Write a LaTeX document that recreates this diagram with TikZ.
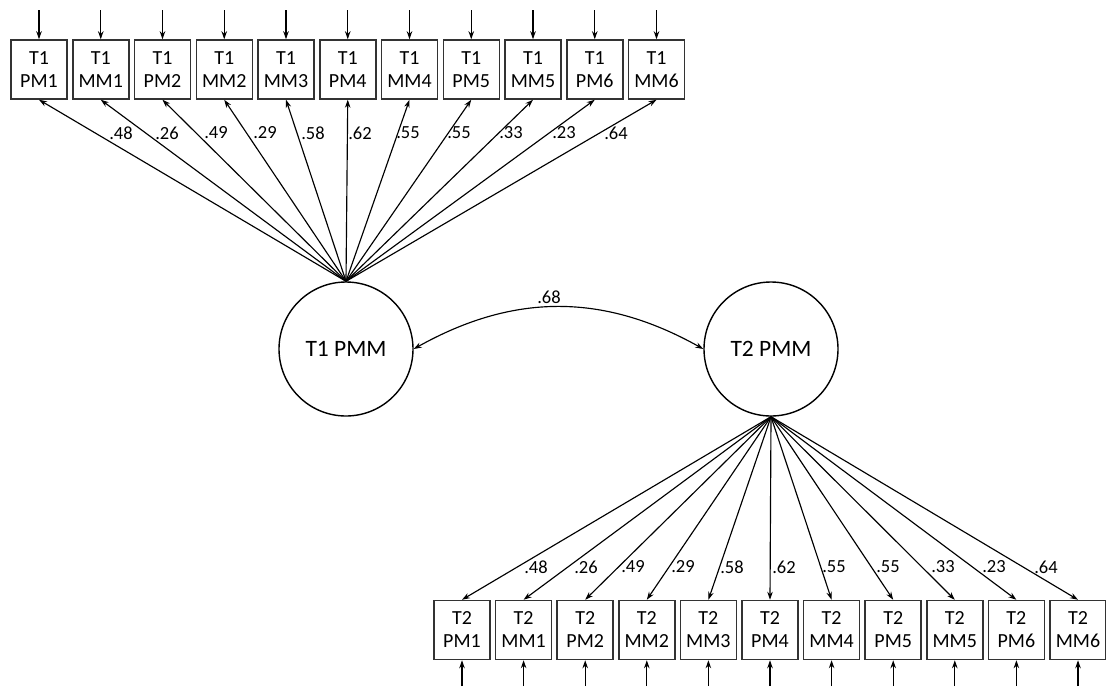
\documentclass[tikz,border=0pt]{standalone}
\usepackage{fontspec}
\setmainfont{Carlito}
\usetikzlibrary{arrows.meta}
\begin{document}
\begin{tikzpicture}[x=1pt,y=-1pt,
  obs/.style={draw=black!80, line width=1.5pt, minimum width=56pt, minimum height=59pt, inner sep=0pt, align=center, font=\fontsize{20}{23}\selectfont},
  lat/.style={draw, circle, line width=1.4pt, minimum size=134pt, inner sep=0pt, font=\fontsize{23.5}{27}\selectfont},
  arr/.style={line width=1.15pt, -{Stealth[length=8pt,width=5.5pt]}},
  darr/.style={line width=1.15pt, {Stealth[length=8pt,width=5.5pt]}-{Stealth[length=8pt,width=5.5pt]}},
  lbl/.style={font=\fontsize{18.5}{21}\selectfont, inner sep=0pt}]
\useasboundingbox (0,0) rectangle (1106,686);
\node[lat] (t1) at (346,349) {T1 PMM};
\node[lat] (t2) at (771,349) {T2 PMM};
\foreach \n [count=\i from 0] in {PM1,MM1,PM2,MM2,MM3,PM4,MM4,PM5,MM5,PM6,MM6}{
  \node[obs] (a\i) at ({39+61.75*\i},69.5) {T1\\\n};
  \coordinate (ea\i) at ({39+61.75*\i},10);
  \draw[arr] (ea\i) -- (a\i.north);
  \draw[arr] (t1.north) -- (a\i.south);
  \node[obs] (b\i) at ({462+61.6*\i},630) {T2\\\n};
  \coordinate (eb\i) at ({462+61.6*\i},686);
  \draw[arr] (eb\i) -- (b\i.south);
  \draw[arr] (t2.south) -- (b\i.north);
}
\foreach \v/\x [count=\i] in {.48/121,.26/167,.49/216,.29/265,.58/313,.62/360,.55/408,.55/459,.33/511,.23/564,.64/616}{
  \node[lbl] (la\i) at (\x,133) {\v};
}
\foreach \v/\x [count=\i] in {.48/536,.26/586,.49/633,.29/683,.58/732,.62/784,.55/834,.55/888,.33/943,.23/994,.64/1046}{
  \node[lbl] (lb\i) at (\x,567) {\v};
}
\draw[darr] (t1.east) .. controls +(100,-56) and +(-100,-56) .. (t2.west);
\node[lbl] (lc) at (549,297) {.68};
\end{tikzpicture}
\end{document}
